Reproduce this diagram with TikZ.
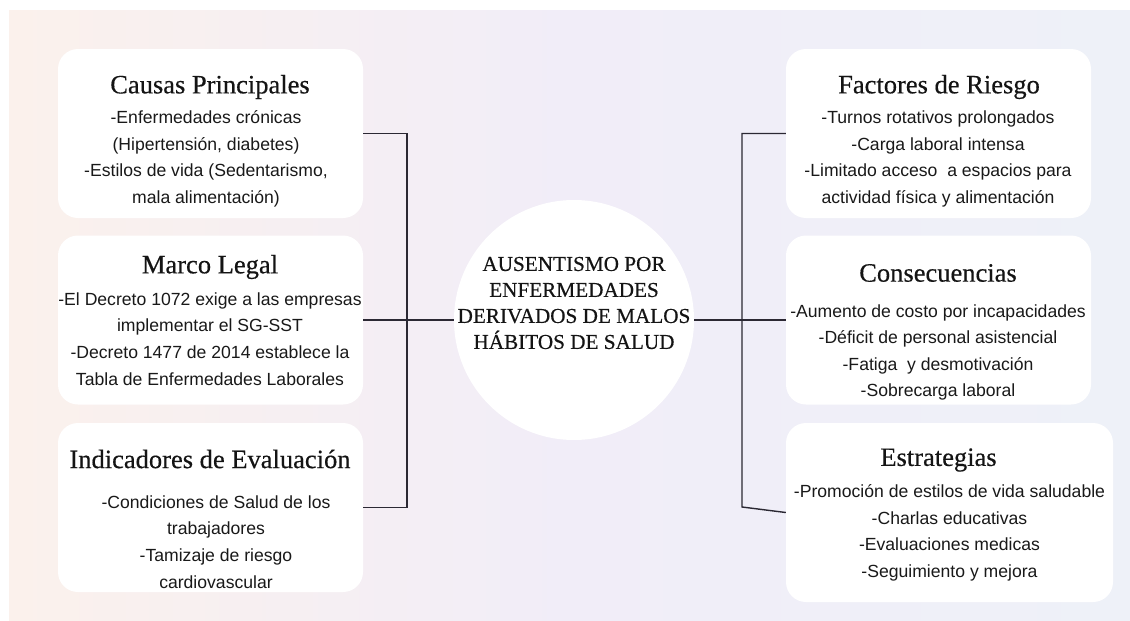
\documentclass[tikz,border=0pt]{standalone}
\usepackage{fontspec}
\setmainfont{Liberation Serif}
\setsansfont{Liberation Sans}
\newfontfamily\headfont[FakeBold=0.4]{Liberation Serif}
\usepackage{xcolor}
\usepackage{tikz}
\usetikzlibrary{positioning,calc}

\definecolor{bgcream}{HTML}{FBF1EC}
\definecolor{bgpink}{HTML}{FAEAF4}
\definecolor{bglav}{HTML}{F1EDF8}
\definecolor{bgblue}{HTML}{EEF1F8}
\definecolor{linkcol}{HTML}{2B2833}

\begin{document}
\begin{tikzpicture}[x=1pt, y=-1pt,
  card/.style={fill=white, rounded corners=20pt, minimum width=305pt, minimum height=169pt, inner sep=0pt},
  widecard/.style={card, minimum width=327pt, minimum height=179pt},
  hubnode/.style={circle, fill=white, minimum size=240pt, inner sep=0pt},
  ttl/.style={font=\fontsize{26.5}{30}\selectfont\headfont, text=black!92, inner sep=0pt},
  txt/.style={font=\fontsize{17.6}{26.6}\selectfont\sffamily, text=black!90, align=center, inner sep=0pt},
  hubtxt/.style={font=\fontsize{21.2}{26}\selectfont\headfont, text=black!92, align=center, inner sep=0pt},
  link/.style={draw=linkcol, line width=1.4pt}]
\useasboundingbox (0,0) rectangle (1130,621);
\shade[left color=bgcream, right color=bgblue, middle color=bglav] (9,10) rectangle (1130,621);

% left column
\node[card] (causas) at (210.5,133.5) {};
\node[card] (marco) at (210.5,320) {};
\node[card] (indic) at (210.5,507.5) {};
\node[ttl] (causasT) at (210,87) {Causas Principales};
\node[txt] (causasB) at (206,159) {-Enfermedades crónicas\\(Hipertensión, diabetes)\\-Estilos de vida (Sedentarismo,\\mala alimentación)};
\node[ttl] (marcoT) at (210,267) {Marco Legal};
\node[txt] (marcoB) at (210,339) {-El Decreto 1072 exige a las empresas\\implementar el SG-SST\\-Decreto 1477 de 2014 establece la\\Tabla de Enfermedades Laborales};
\node[ttl] (indicT) at (210,459) {Indicadores de Evaluación};
\node[txt] (indicB) at (216,542) {-Condiciones de Salud de los\\trabajadores\\-Tamizaje de riesgo\\cardiovascular};

% right column
\node[card] (factores) at (938.5,133.5) {};
\node[card] (conse) at (938.5,320) {};
\node[widecard] (estrat) at (949.5,512.5) {};
\node[ttl] (factoresT) at (939,87) {Factores de Riesgo};
\node[txt] (factoresB) at (938,159) {-Turnos rotativos prolongados\\-Carga laboral intensa\\-Limitado acceso \ a espacios para\\actividad física y alimentación};
\node[ttl] (conseT) at (938,273) {Consecuencias};
\node[txt] (conseB) at (938,352.5) {-Aumento de costo por incapacidades\\-Déficit de personal asistencial\\-Fatiga \ y desmotivación\\-Sobrecarga laboral};
\node[ttl] (estratT) at (938.5,460) {Estrategias};
\node[txt] (estratB) at (949.5,533) {-Promoción de estilos de vida saludable\\-Charlas educativas\\-Evaluaciones medicas\\-Seguimiento y mejora};

% centre
\node[hubnode] (hub) at (574,320) {};
\node[hubtxt] (hubT) at (574,303) {AUSENTISMO POR\\ENFERMEDADES\\DERIVADOS DE MALOS\\HÁBITOS DE SALUD};

% connectors
\coordinate (ljoin) at (407,320);
\coordinate (rtop) at (742,133.5);
\coordinate (rbot) at (742,507);
\draw[link] (causas.east) -| (ljoin) |- (indic.east);
\draw[link] (marco.east) -- (hub.west);
\draw[link] (factores.west) -- (rtop) -- (rbot) -- (estrat.west);
\draw[link] (hub.east) -- (conse.west);
\end{tikzpicture}
\end{document}
